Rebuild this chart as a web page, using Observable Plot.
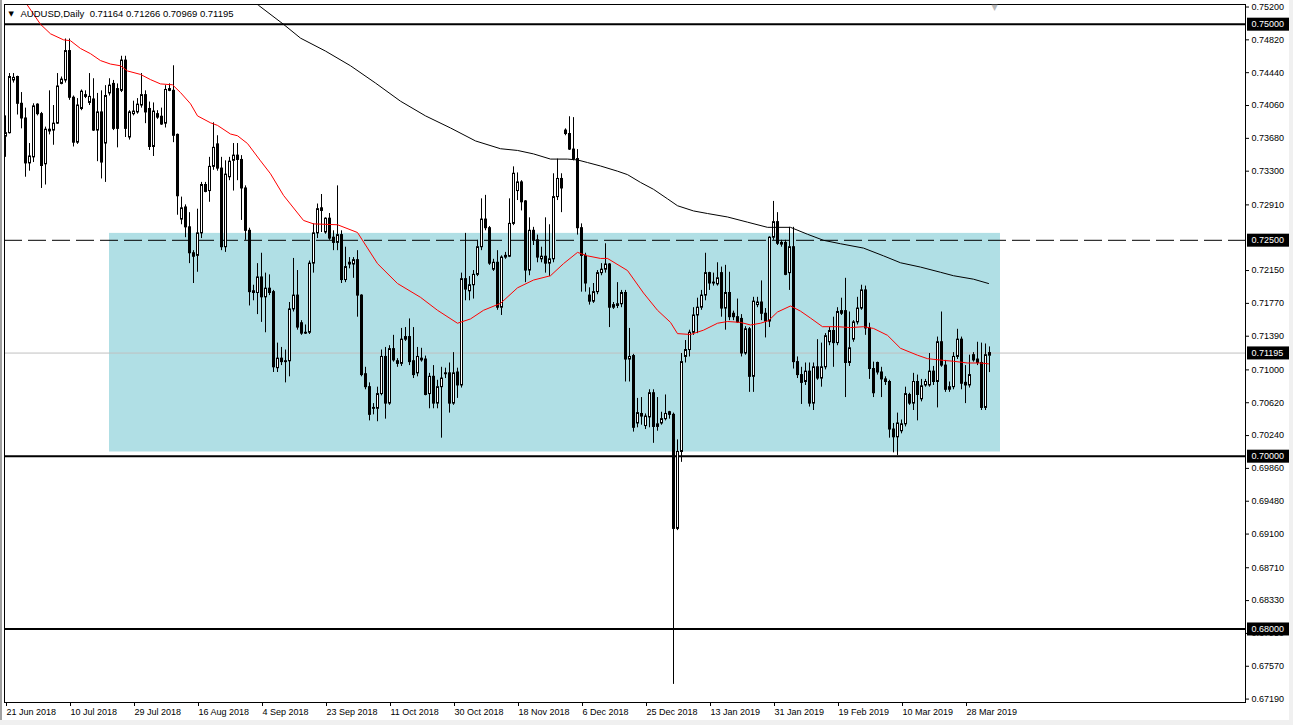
<!DOCTYPE html>
<html><head><meta charset="utf-8">
<script src="https://cdn.jsdelivr.net/npm/d3@7"></script>
<script src="https://cdn.jsdelivr.net/npm/@observablehq/plot@0.6"></script>
<style>
html,body{margin:0;padding:0;background:#fff;}
#wrap{position:relative;width:1293px;height:725px;overflow:hidden;background:#fff;}
#wrap svg{position:absolute;left:0;top:0;}
.edgeL{position:absolute;left:0;top:0;width:2px;height:725px;background:#a0a0a0;}
.edgeB{position:absolute;left:0;top:720px;width:1293px;height:5px;background:#f0f0f0;}
.edgeR{position:absolute;left:1289px;top:0;width:4px;height:725px;background:#f0f0f0;}
</style></head><body><div id="wrap"></div>
<script>
// ---- data ----
const header = "AUDUSD,Daily  0.71164 0.71266 0.70969 0.71195";
const dateLabels = ["21 Jun 2018","10 Jul 2018","29 Jul 2018","16 Aug 2018","4 Sep 2018","23 Sep 2018","11 Oct 2018","30 Oct 2018","18 Nov 2018","6 Dec 2018","25 Dec 2018","13 Jan 2019","31 Jan 2019","19 Feb 2019","10 Mar 2019","28 Mar 2019"];
const dateTickIdx = [0,16,32,48,64,80,96,112,128,144,160,176,192,208,224,240];

const opens = [0.7370,0.7374,0.7435,0.7439,0.7408,0.7391,0.7339,0.7346,0.7407,0.7396,
0.7338,0.7378,0.7377,0.7385,0.7431,0.7435,0.7469,0.7415,0.7363,0.7402,
0.7418,0.7409,0.7413,0.7377,0.7398,0.7362,0.7420,0.7431,0.7425,0.7423,
0.7458,0.7369,0.7396,0.7398,0.7406,0.7418,0.7402,0.7358,0.7396,0.7393,
0.7385,0.7425,0.7423,0.7372,0.7274,0.7288,0.7265,0.7235,0.7232,0.7258,
0.7314,0.7307,0.7335,0.7361,0.7333,0.7242,0.7323,0.7342,0.7348,0.7343,
0.7310,0.7261,0.7191,0.7189,0.7207,0.7184,0.7194,0.7190,0.7102,0.7113,
0.7110,0.7110,0.7170,0.7186,0.7154,0.7143,0.7143,0.7223,0.7258,0.7287,
0.7259,0.7275,0.7253,0.7247,0.7256,0.7204,0.7224,0.7222,0.7227,0.7186,
0.7095,0.7080,0.7056,0.7055,0.7072,0.7115,0.7061,0.7124,0.7110,0.7107,
0.7135,0.7138,0.7110,0.7096,0.7113,0.7112,0.7072,0.7092,0.7061,0.7080,
0.7096,0.7096,0.7061,0.7097,0.7082,0.7205,0.7191,0.7198,0.7210,0.7242,
0.7274,0.7264,0.7216,0.7224,0.7172,0.7230,0.7231,0.7269,0.7307,0.7317,
0.7295,0.7215,0.7261,0.7250,0.7228,0.7231,0.7223,0.7228,0.7300,0.7321,
0.7377,0.7373,0.7355,0.7344,0.7264,0.7232,0.7186,0.7179,0.7190,0.7212,
0.7216,0.7222,0.7172,0.7174,0.7176,0.7189,0.7112,0.7116,0.7038,0.7049,
0.7035,0.7045,0.7073,0.7034,0.7038,0.7043,0.7051,0.7048,0.6916,0.7005,
0.7115,0.7123,0.7143,0.7163,0.7172,0.7186,0.7212,0.7201,0.7199,0.7212,
0.7171,0.7189,0.7165,0.7161,0.7159,0.7119,0.7147,0.7092,0.7175,0.7178,
0.7165,0.7156,0.7253,0.7271,0.7245,0.7247,0.7212,0.7242,0.7109,0.7094,
0.7086,0.7098,0.7061,0.7103,0.7090,0.7103,0.7132,0.7145,0.7131,0.7168,
0.7168,0.7108,0.7135,0.7155,0.7171,0.7192,0.7148,0.7101,0.7108,0.7097,
0.7089,0.7086,0.7031,0.7022,0.7029,0.7037,0.7071,0.7061,0.7086,0.7066,
0.7082,0.7082,0.7098,0.7086,0.7132,0.7105,0.7077,0.7080,0.7115,0.7135,
0.7085,0.7082,0.7117,0.7112,0.7108,0.7056,0.71164];

const highs = [0.7394,0.7443,0.7443,0.7440,0.7421,0.7403,0.7362,0.7408,0.7408,0.7398,
0.7381,0.7423,0.7406,0.7443,0.7439,0.7483,0.7483,0.7417,0.7414,0.7424,
0.7423,0.7443,0.7437,0.7420,0.7423,0.7429,0.7437,0.7435,0.7431,0.7463,
0.7463,0.7400,0.7411,0.7414,0.7443,0.7423,0.7410,0.7409,0.7400,0.7403,
0.7429,0.7431,0.7452,0.7373,0.7300,0.7291,0.7282,0.7238,0.7286,0.7317,
0.7317,0.7346,0.7386,0.7371,0.7346,0.7342,0.7346,0.7362,0.7362,0.7348,
0.7313,0.7264,0.7198,0.7223,0.7235,0.7212,0.7210,0.7192,0.7131,0.7126,
0.7123,0.7178,0.7229,0.7215,0.7157,0.7152,0.7226,0.7269,0.7292,0.7303,
0.7276,0.7281,0.7261,0.7313,0.7261,0.7242,0.7230,0.7230,0.7238,0.7187,
0.7103,0.7085,0.7061,0.7080,0.7123,0.7126,0.7128,0.7140,0.7113,0.7148,
0.7149,0.7159,0.7149,0.7126,0.7125,0.7116,0.7096,0.7105,0.7088,0.7103,
0.7102,0.7108,0.7120,0.7102,0.7212,0.7258,0.7208,0.7215,0.7250,0.7298,
0.7302,0.7266,0.7228,0.7238,0.7232,0.7236,0.7298,0.7335,0.7328,0.7319,
0.7296,0.7276,0.7265,0.7256,0.7242,0.7276,0.7268,0.7327,0.7344,0.7327,
0.7379,0.7393,0.7392,0.7355,0.7269,0.7235,0.7195,0.7200,0.7215,0.7223,
0.7246,0.7223,0.7178,0.7201,0.7192,0.7192,0.7148,0.7118,0.7067,0.7068,
0.7049,0.7077,0.7077,0.7068,0.7051,0.7071,0.7052,0.7050,0.7019,0.7119,
0.7134,0.7146,0.7172,0.7183,0.7192,0.7235,0.7213,0.7212,0.7224,0.7219,
0.7221,0.7213,0.7168,0.7182,0.7164,0.7150,0.7149,0.7184,0.7184,0.7203,
0.7171,0.7254,0.7295,0.7282,0.7250,0.7250,0.7265,0.7265,0.7115,0.7103,
0.7108,0.7108,0.7108,0.7135,0.7131,0.7142,0.7149,0.7161,0.7172,0.7183,
0.7206,0.7167,0.7157,0.7184,0.7198,0.7197,0.7154,0.7109,0.7109,0.7103,
0.7092,0.7088,0.7038,0.7050,0.7042,0.7080,0.7073,0.7096,0.7094,0.7089,
0.7089,0.7119,0.7104,0.7138,0.7167,0.7111,0.7086,0.7120,0.7147,0.7138,
0.7105,0.7117,0.7120,0.7132,0.7131,0.7130,0.71266];

const lows = [0.7346,0.7373,0.7432,0.7395,0.7379,0.7323,0.7330,0.7340,0.7394,0.7310,
0.7314,0.7372,0.7360,0.7384,0.7430,0.7432,0.7412,0.7358,0.7361,0.7400,
0.7414,0.7406,0.7376,0.7341,0.7321,0.7317,0.7417,0.7377,0.7357,0.7421,
0.7369,0.7366,0.7394,0.7396,0.7403,0.7385,0.7354,0.7347,0.7390,0.7383,
0.7380,0.7422,0.7363,0.7279,0.7268,0.7253,0.7223,0.7200,0.7213,0.7252,
0.7305,0.7294,0.7331,0.7330,0.7238,0.7236,0.7319,0.7307,0.7319,0.7273,
0.7250,0.7174,0.7180,0.7164,0.7155,0.7143,0.7186,0.7097,0.7097,0.7105,
0.7085,0.7092,0.7167,0.7146,0.7140,0.7141,0.7141,0.7212,0.7252,0.7259,
0.7257,0.7250,0.7238,0.7238,0.7200,0.7201,0.7217,0.7206,0.7161,0.7092,
0.7077,0.7041,0.7048,0.7040,0.7070,0.7043,0.7059,0.7109,0.7103,0.7104,
0.7133,0.7105,0.7090,0.7092,0.7109,0.7070,0.7055,0.7055,0.7055,0.7021,
0.7090,0.7050,0.7059,0.7067,0.7079,0.7180,0.7180,0.7182,0.7208,0.7238,
0.7261,0.7221,0.7214,0.7169,0.7163,0.7228,0.7230,0.7267,0.7296,0.7284,
0.7201,0.7209,0.7244,0.7224,0.7224,0.7212,0.7208,0.7224,0.7296,0.7282,
0.7371,0.7354,0.7342,0.7256,0.7190,0.7190,0.7175,0.7177,0.7187,0.7209,
0.7212,0.7149,0.7170,0.7171,0.7172,0.7086,0.7086,0.7028,0.7033,0.7036,
0.7031,0.7033,0.7015,0.7029,0.7036,0.7041,0.7043,0.6736,0.6914,0.6993,
0.7108,0.7115,0.7140,0.7142,0.7169,0.7180,0.7192,0.7197,0.7197,0.7161,
0.7146,0.7157,0.7157,0.7154,0.7115,0.7117,0.7074,0.7074,0.7172,0.7157,
0.7137,0.7149,0.7250,0.7244,0.7242,0.7209,0.7192,0.7101,0.7090,0.7060,
0.7082,0.7057,0.7053,0.7088,0.7080,0.7100,0.7128,0.7103,0.7128,0.7163,
0.7068,0.7104,0.7132,0.7152,0.7169,0.7140,0.7089,0.7068,0.7094,0.7068,
0.7082,0.7021,0.7004,0.7001,0.7026,0.7034,0.7059,0.7053,0.7041,0.7063,
0.7080,0.7080,0.7082,0.7056,0.7103,0.7074,0.7074,0.7077,0.7112,0.7077,
0.7061,0.7079,0.7109,0.7105,0.7053,0.7053,0.70969];

const closes = [0.7374,0.7439,0.7438,0.7408,0.7391,0.7339,0.7347,0.7405,0.7396,0.7336,
0.7378,0.7376,0.7385,0.7428,0.7436,0.7469,0.7415,0.7363,0.7406,0.7422,
0.7416,0.7416,0.7377,0.7398,0.7340,0.7417,0.7429,0.7379,0.7379,0.7458,
0.7379,0.7398,0.7399,0.7407,0.7418,0.7398,0.7358,0.7399,0.7392,0.7384,
0.7424,0.7423,0.7371,0.7301,0.7287,0.7265,0.7235,0.7231,0.7258,0.7314,
0.7306,0.7335,0.7357,0.7333,0.7242,0.7326,0.7341,0.7348,0.7343,0.7310,
0.7261,0.7190,0.7189,0.7207,0.7184,0.7194,0.7189,0.7103,0.7113,0.7109,
0.7109,0.7170,0.7186,0.7149,0.7142,0.7142,0.7223,0.7258,0.7286,0.7284,
0.7275,0.7252,0.7247,0.7256,0.7204,0.7219,0.7222,0.7227,0.7186,0.7094,
0.7080,0.7048,0.7055,0.7072,0.7115,0.7061,0.7124,0.7111,0.7107,0.7135,
0.7138,0.7109,0.7094,0.7115,0.7111,0.7071,0.7092,0.7061,0.7080,0.7090,
0.7095,0.7061,0.7096,0.7082,0.7205,0.7193,0.7198,0.7210,0.7242,0.7274,
0.7264,0.7223,0.7224,0.7172,0.7230,0.7232,0.7269,0.7327,0.7317,0.7294,
0.7215,0.7261,0.7250,0.7230,0.7231,0.7223,0.7228,0.7300,0.7321,0.7310,
0.7373,0.7355,0.7344,0.7264,0.7232,0.7200,0.7179,0.7190,0.7212,0.7216,
0.7222,0.7172,0.7175,0.7176,0.7189,0.7112,0.7115,0.7033,0.7050,0.7046,
0.7046,0.7073,0.7034,0.7037,0.7043,0.7049,0.7048,0.6916,0.7005,0.7109,
0.7123,0.7143,0.7163,0.7172,0.7186,0.7212,0.7200,0.7200,0.7206,0.7171,
0.7189,0.7161,0.7161,0.7155,0.7119,0.7147,0.7092,0.7179,0.7178,0.7165,
0.7156,0.7253,0.7271,0.7246,0.7247,0.7210,0.7242,0.7109,0.7094,0.7085,
0.7098,0.7061,0.7103,0.7090,0.7103,0.7139,0.7145,0.7131,0.7167,0.7165,
0.7108,0.7125,0.7155,0.7171,0.7192,0.7148,0.7101,0.7073,0.7097,0.7089,
0.7086,0.7031,0.7022,0.7038,0.7037,0.7072,0.7061,0.7086,0.7071,0.7081,
0.7086,0.7098,0.7086,0.7132,0.7105,0.7077,0.7080,0.7115,0.7135,0.7084,
0.7082,0.7094,0.7111,0.7108,0.7056,0.7117,0.71195];

// red moving average, sampled along the drawn curve (bar position, price)
const maFastIdx = [5.5,8.75,11.25,14.5,16.25,18.75,21.25,23.75,26.25,28.75,30.5,33.75,36.25,38.75,41.75,43.75,46.25,48,51.25,53,56.25,58,60.5,63.75,66.25,69.5,74.5,77,83,88,93,98,103.75,108,113,116.25,119.5,123.75,128,132,136.25,139.5,143,145.5,148.75,150.5,155.5,159.5,163,166.25,168,171.25,174.5,178,180.5,183.75,186.25,188.75,190.75,193,196.25,198.75,201.25,204.25,208,211.25,214.5,217,220.5,223.75,228,230.5,234.5,237,240.5,243.75,245.75];
const maFastVal = [0.7522,0.7500,0.7489,0.7482,0.7481,0.7472,0.7466,0.7458,0.7454,0.7452,0.7446,0.7442,0.7436,0.7431,0.7430,0.7421,0.7408,0.7394,0.7386,0.7383,0.7373,0.7371,0.7362,0.7342,0.7327,0.7302,0.7273,0.7269,0.7268,0.7259,0.7223,0.7200,0.7184,0.7169,0.7154,0.7159,0.7169,0.7177,0.7195,0.7204,0.7209,0.7223,0.7236,0.7232,0.7229,0.7229,0.7215,0.7189,0.7169,0.7155,0.7142,0.7141,0.7146,0.7154,0.7156,0.7155,0.7152,0.7154,0.7157,0.7167,0.7174,0.7168,0.7160,0.7150,0.7150,0.7149,0.7150,0.7148,0.7140,0.7125,0.7117,0.7113,0.7111,0.7110,0.7108,0.7108,0.7107];
// black moving average
const maSlowIdx = [61.75,63.25,69.5,73.75,80,86.25,92.5,98.75,105,111.25,117.5,123.75,128,132,136.25,140.5,143,145.5,148.75,153,155.5,158.75,162,165.5,168,172,175.5,180.5,185.5,190.5,196.25,200.5,204.5,208.75,214.5,219.5,223.75,228.75,233.75,237,242,245.75];
const maSlowVal = [0.7527,0.7522,0.7500,0.7484,0.7469,0.7452,0.7432,0.7411,0.7394,0.7380,0.7365,0.7356,0.7354,0.7350,0.7344,0.7344,0.7343,0.7340,0.7336,0.7330,0.7326,0.7317,0.7309,0.7298,0.7290,0.7284,0.7281,0.7277,0.7271,0.7265,0.7265,0.7257,0.7250,0.7246,0.7241,0.7232,0.7224,0.7219,0.7213,0.7209,0.7205,0.7200];

const priceTicks = [0.7520,0.7482,0.7444,0.7406,0.7368,0.7330,0.7291,0.7215,0.7177,0.7139,0.7100,0.7062,0.7024,0.6986,0.6948,0.6910,0.6871,0.6833,0.6795,0.6757,0.6719];
const keyLevels = [0.75, 0.70, 0.68];
const dashedLevels = [0.725];
const bidLevels = [0.71195];
const markedLevels = [0.75, 0.725, 0.71195, 0.70, 0.68];
const zoneStart = [26], zoneEnd = [248.75], zoneLow = [0.7005], zoneHigh = [0.7258];

// ---- build tables ----
const bars = opens.map((o, i) => ({i, open: o, high: highs[i], low: lows[i], close: closes[i]}));
const up = bars.filter(d => d.close >= d.open);
const down = bars.filter(d => d.close < d.open);
const fast = maFastIdx.map((x, k) => ({x, y: maFastVal[k]}));
const slow = maSlowIdx.map((x, k) => ({x, y: maSlowVal[k]}));
const zone = zoneStart.map((s, k) => ({s, e: zoneEnd[k], lo: zoneLow[k], hi: zoneHigh[k]}));
const FONT = "'Liberation Sans', Arial, sans-serif";

const chart = Plot.plot({
  width: 1293, height: 725,
  marginLeft: 4, marginRight: 48, marginTop: 4, marginBottom: 23,
  style: {fontFamily: FONT, background: "white", color: "black"},
  x: {domain: [-0.25, 310]},
  y: {domain: [0.671505, 0.752292]},
  marks: [
    Plot.rect(zone, {x1: "s", x2: "e", y1: "lo", y2: "hi", fill: "#B0DFE5"}),
    Plot.ruleY(bidLevels, {stroke: "#C0C0C0"}),
    Plot.ruleY(dashedLevels, {stroke: "black", strokeDasharray: "18,6"}),
    Plot.ruleY(keyLevels, {stroke: "black", strokeWidth: 2}),
    Plot.ruleX(bars, {x: "i", y1: "low", y2: "high", stroke: "black", strokeWidth: 1}),
    Plot.rect(up, {x1: d => d.i - 0.125, x2: d => d.i + 0.375, y1: "open", y2: "close", fill: "white", stroke: "black", strokeWidth: 1}),
    Plot.rect(down, {x1: d => d.i - 0.125, x2: d => d.i + 0.375, y1: "open", y2: "close", fill: "black", stroke: "black", strokeWidth: 1}),
    Plot.line(slow, {x: "x", y: "y", stroke: "black", strokeWidth: 1, clip: true}),
    Plot.line(fast, {x: "x", y: "y", stroke: "#FF0000", strokeWidth: 1, clip: true}),
    Plot.frame({stroke: "black"}),
    Plot.axisY({anchor: "right", ticks: priceTicks, tickFormat: d3.format(".5f"), tickSize: 3, tickPadding: 3, fontSize: 9, label: null}),
    Plot.axisX({anchor: "bottom", ticks: dateTickIdx, tickFormat: d => dateLabels[dateTickIdx.indexOf(d)], tickSize: 4, tickPadding: 2, textAnchor: "start", dx: 1, fontSize: 9, label: null}),
    Plot.text(markedLevels, {y: d => d, frameAnchor: "right", dx: 6, textAnchor: "start", fill: "white", fontSize: 9, text: d => d3.format(".5f")(d), className: "marked"}),
    Plot.text([header], {frameAnchor: "top-left", dx: 16, dy: 9, textAnchor: "start", lineAnchor: "middle", fontSize: 9.5}),
    Plot.text(["\u25BC"], {frameAnchor: "top-left", dx: 4, dy: 9, textAnchor: "start", lineAnchor: "middle", fontSize: 7, fontFamily: "DejaVu Sans"}),
    Plot.text(["\u25BC"], {frameAnchor: "top-left", dx: 987, dy: 3, textAnchor: "start", lineAnchor: "middle", fontSize: 8, fill: "#B8B8B8", fontFamily: "DejaVu Sans"})
  ]
});

const wrap = document.getElementById("wrap");
wrap.appendChild(chart);
["edgeL","edgeB","edgeR"].forEach(c => { const d = document.createElement("div"); d.className = c; wrap.appendChild(d); });

// black boxes behind the highlighted price labels
d3.select(chart).selectAll("g.marked text").each(function() {
  const b = this.getBBox();
  const cy = b.y + b.height / 2;
  const r = d3.select(this.parentNode).insert("rect", () => this)
    .attr("x", b.x - 4.5).attr("y", cy - 6.5)
    .attr("width", 43.5).attr("height", 13)
    .attr("fill", "black");
  const t = this.getAttribute("transform");
  if (t) r.attr("transform", t);
});
</script></body></html>
